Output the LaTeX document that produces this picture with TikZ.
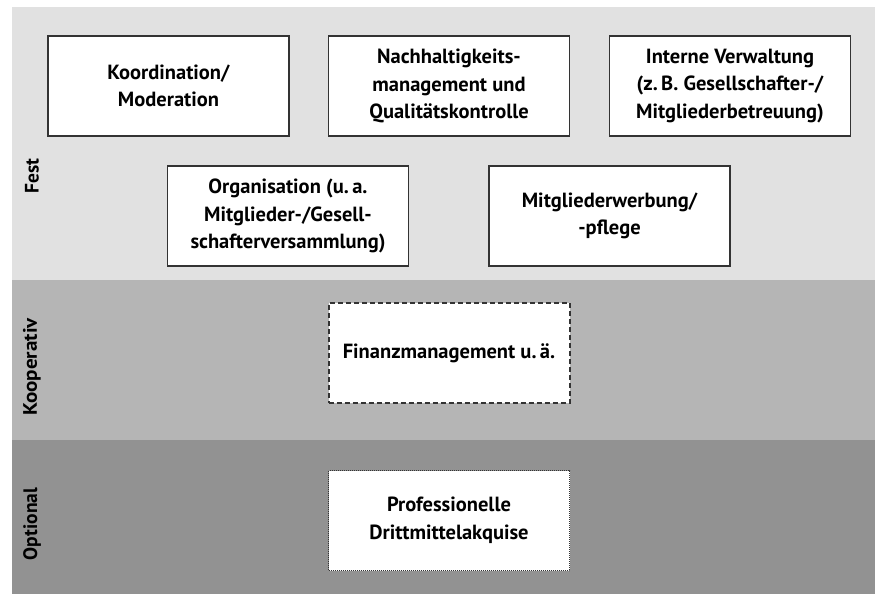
\documentclass[tikz,border=0pt]{standalone}
\usepackage{fontspec}
\setmainfont{PT Sans}
\begin{document}
\begin{tikzpicture}[x=1pt,y=-1pt,
  box/.style={draw=black!80,line width=1.6pt,fill=white,minimum width=241pt,minimum height=100pt,align=center,inner sep=2pt,font=\fontsize{20.5}{27.5}\selectfont\bfseries},
  band/.style={draw=none},
  lbl/.style={rotate=90,font=\fontsize{19.5}{20}\selectfont\bfseries,inner sep=0pt}]
\useasboundingbox (0,0) rectangle (875,594);
\fill[white] (0,0) rectangle (875,594);
\fill[band,fill={rgb,255:red,225;green,225;blue,225}] (12,7) rectangle (875,280);
\fill[band,fill={rgb,255:red,181;green,181;blue,181}] (12,280) rectangle (875,440);
\fill[band,fill={rgb,255:red,146;green,146;blue,146}] (12,440) rectangle (875,594);
\node[lbl] (fest) at (32,176) {Fest};
\node[lbl,xscale=1.08] (koop) at (32,367) {Kooperativ};
\node[lbl] (opt) at (32,524) {Optional};
\node[box] (koord) at (168.5,86) {Koordination/\\Moderation};
\node[box] (nach) at (449,86) {Nachhaltigkeits-\\management und\\Qualitätskontrolle};
\node[box] (intern) at (730,86) {Interne Verwaltung\\(z.\,B. Gesellschafter-/\\Mitgliederbetreuung)};
\node[box] (orga) at (288,216) {Organisation (u.\,a.\\Mitglieder-/Gesell-\\schafterversammlung)};
\node[box] (mitgl) at (609.5,216) {Mitgliederwerbung/\\-pflege};
\node[box,dash pattern=on 5pt off 3pt,line width=2pt] (finanz) at (449,353) {Finanzmanagement u.\,ä.};
\node[box,dash pattern=on 1pt off 1pt,line width=1.3pt] (prof) at (449,520.5) {Professionelle\\Drittmittelakquise};
\end{tikzpicture}
\end{document}
